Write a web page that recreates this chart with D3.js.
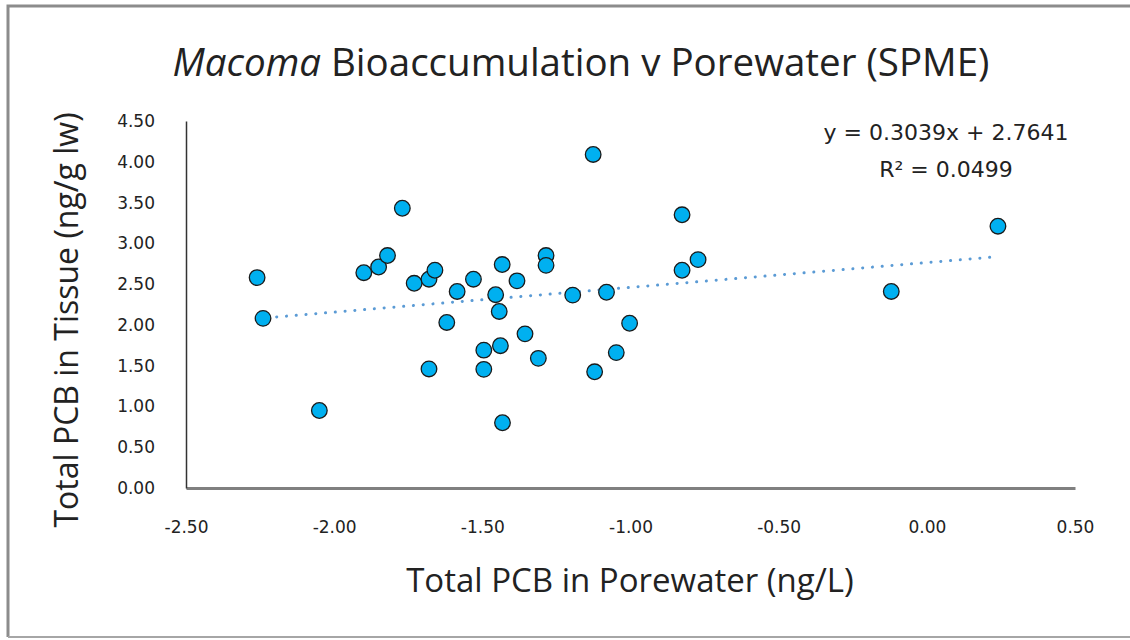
<!DOCTYPE html>
<html>
<head>
<meta charset="utf-8">
<script src="https://cdn.jsdelivr.net/npm/d3@7"></script>
<style>
  html, body { margin: 0; padding: 0; background: #fff; }
  svg { display: block; }
</style>
</head>
<body>
<svg id="chart" width="1130" height="640"></svg>
<script>
// ---- data ----
const xValues = [-2.26, -2.24, -2.05, -1.90, -1.85, -1.82, -1.77, -1.73, -1.68, -1.66, -1.68, -1.62, -1.585, -1.53, -1.495, -1.495, -1.455, -1.443, -1.433, -1.439, -1.432, -1.383, -1.356, -1.311, -1.285, -1.285, -1.195, -1.126, -1.121, -1.081, -1.048, -1.003, -0.826, -0.826, -0.772, -0.120, 0.240];
const yValues = [2.58, 2.08, 0.95, 2.64, 2.71, 2.85, 3.43, 2.51, 2.56, 2.67, 1.46, 2.03, 2.41, 2.56, 1.69, 1.455, 2.37, 2.165, 2.74, 1.745, 0.80, 2.54, 1.89, 1.59, 2.85, 2.73, 2.365, 4.09, 1.425, 2.40, 1.66, 2.02, 3.35, 2.67, 2.80, 2.41, 3.21];
const xTicks = [-2.5, -2.0, -1.5, -1.0, -0.5, 0.0, 0.5];
const yTicks = [0, 0.5, 1.0, 1.5, 2.0, 2.5, 3.0, 3.5, 4.0, 4.5];
const trendSlope = 0.3039;
const trendIntercept = 2.7641;
const titleItalic = "Macoma";
const titleRest = " Bioaccumulation v Porewater (SPME)";
const xTitle = "Total PCB in Porewater (ng/L)";
const yTitle = "Total PCB in Tissue (ng/g lw)";
const eqLine1 = "y = 0.3039x + 2.7641";
const eqLine2 = "R² = 0.0499";

// ---- layout ----
const svg = d3.select("#chart");
const plotLeft = 186, plotRight = 1075, plotTop = 121, plotBottom = 488;
const x = d3.scaleLinear().domain([-2.5, 0.5]).range([plotLeft, plotRight]);
const y = d3.scaleLinear().domain([0, 4.5]).range([plotBottom, plotTop]);
const fmt = d => d.toFixed(2); // hyphen-minus like the original

// outer border
svg.append("path")
  .attr("d", `M8,637 L8,6 L1130,6`)
  .attr("fill", "none").attr("stroke", "#8c8c8c").attr("stroke-width", 3);
svg.append("line").attr("x1", 8).attr("x2", 1130).attr("y1", 637).attr("y2", 637)
  .attr("stroke", "#a6a6a6").attr("stroke-width", 2);

const labelFont = "'Open Sans', Lato, sans-serif";
// title
const title = svg.append("text")
  .attr("x", 581).attr("y", 76)
  .attr("text-anchor", "middle")
  .attr("font-family", labelFont)
  .attr("font-size", 38.5).attr("fill", "#222");
title.append("tspan").attr("font-style", "italic").text(titleItalic);
title.append("tspan").text(titleRest);

// axes
const tickFont = "'DejaVu Sans', Verdana, sans-serif";
const xAxis = d3.axisBottom(x).tickValues(xTicks).tickSize(0).tickPadding(33).tickFormat(fmt);
const gx = svg.append("g").attr("transform", `translate(0,${plotBottom})`).call(xAxis);
gx.select(".domain").attr("stroke", "#808080").attr("stroke-width", 3);
gx.selectAll("text").attr("font-family", tickFont).attr("font-size", 17).attr("fill", "#222");

const yAxis = d3.axisLeft(y).tickValues(yTicks).tickSize(0).tickPadding(31).tickFormat(fmt);
const gy = svg.append("g").attr("transform", `translate(${plotLeft},0)`).call(yAxis);
gy.select(".domain").attr("stroke", "#333").attr("stroke-width", 1.5);
gy.selectAll("text").attr("font-family", tickFont).attr("font-size", 17).attr("fill", "#222");

// axis titles
svg.append("text")
  .attr("x", 630).attr("y", 592)
  .attr("text-anchor", "middle")
  .attr("font-family", labelFont)
  .attr("font-size", 33).attr("fill", "#222")
  .text(xTitle);
svg.append("text")
  .attr("transform", `translate(78,320) rotate(-90)`)
  .attr("text-anchor", "middle")
  .attr("font-family", labelFont)
  .attr("font-size", 32).attr("fill", "#222")
  .text(yTitle);

// trendline
const xMin = d3.min(xValues), xMax = d3.max(xValues);
svg.append("line")
  .attr("x1", x(xMin)).attr("y1", y(trendSlope * xMin + trendIntercept))
  .attr("x2", x(xMax)).attr("y2", y(trendSlope * xMax + trendIntercept))
  .attr("stroke", "#5b9bd5").attr("stroke-width", 3)
  .attr("stroke-dasharray", "0.1 9.7").attr("stroke-linecap", "round");

// points
const pts = xValues.map((v, i) => ({ x: v, y: yValues[i] }));
svg.append("g").selectAll("circle").data(pts).join("circle")
  .attr("cx", d => x(d.x)).attr("cy", d => y(d.y)).attr("r", 7.8)
  .attr("fill", "#00b0f0").attr("stroke", "#1a1a1a").attr("stroke-width", 1.3);

// equation
svg.append("text").attr("x", 946).attr("y", 140).attr("text-anchor", "middle")
  .attr("font-family", tickFont).attr("font-size", 22).attr("fill", "#222").text(eqLine1);
svg.append("text").attr("x", 946).attr("y", 177).attr("text-anchor", "middle")
  .attr("font-family", tickFont).attr("font-size", 22).attr("fill", "#222").text(eqLine2);
</script>
</body>
</html>
